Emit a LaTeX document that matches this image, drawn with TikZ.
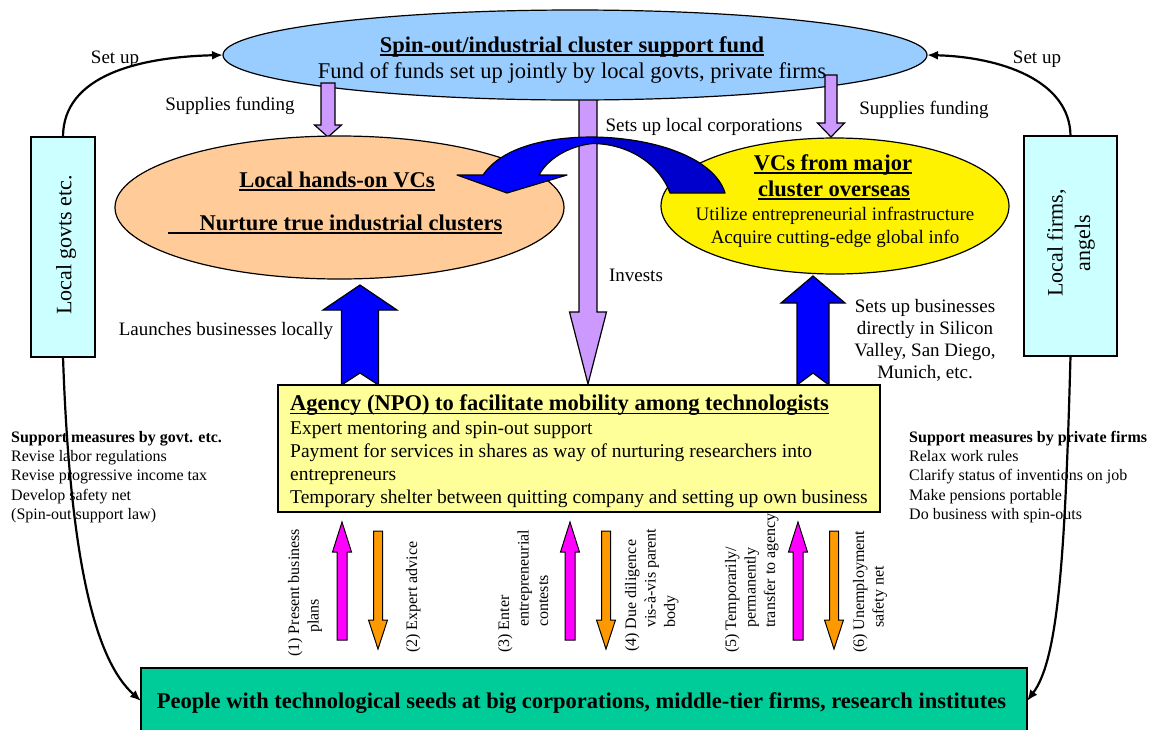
\documentclass[tikz,border=0pt]{standalone}
\usepackage{fontspec}
\setmainfont{Liberation Serif}
\usetikzlibrary{shapes.geometric,arrows.meta}
\definecolor{fundblue}{HTML}{99CCFF}
\definecolor{peach}{HTML}{FFCC99}
\definecolor{cyanbox}{HTML}{CCFFFF}
\definecolor{paleyellow}{HTML}{FFFF99}
\definecolor{seagreen}{HTML}{00CC99}
\definecolor{lavender}{HTML}{CC99FF}
\definecolor{brightblue}{HTML}{0000FF}
\definecolor{navyblue}{HTML}{0000CC}
\definecolor{orangea}{HTML}{FF9900}
\definecolor{magentaa}{HTML}{FF00FF}
\newcommand{\uln}[1]{\leavevmode\setbox0=\hbox{#1}\rlap{\rule[-3.5pt]{\wd0}{1.4pt}}\box0}
\newcommand{\myfs}[2]{\fontsize{#1}{#2}\selectfont}
\newcommand{\varrow}[7]{\filldraw[#7] ({#1-#5},#2) -- ({#1-#5},#3) -- ({#1-#6},#3) -- (#1,#4) -- ({#1+#6},#3) -- ({#1+#5},#3) -- ({#1+#5},#2) -- cycle;}
\tikzset{
  shp/.style={draw=black, line width=1.2pt, inner sep=0pt, outer sep=0pt},
  oval/.style={shp, ellipse},
  conn/.style={line width=2.2pt, -{Latex[length=11pt,width=9pt]}},
  lbl/.style={inner sep=0pt, anchor=base, font=\myfs{19}{22}},
  big/.style={inner sep=0pt, anchor=base, font=\myfs{22.5}{26}},
  bigb/.style={inner sep=0pt, anchor=base, font=\myfs{22.5}{26}\bfseries},
  lav/.style={fill=lavender, draw=black, line width=1.2pt},
  blu/.style={fill=brightblue, draw=black, line width=1.2pt},
  mag/.style={fill=magentaa, draw=black, line width=1pt},
  ora/.style={fill=orangea, draw=black, line width=1pt},
  rotlbl/.style={inner sep=0pt, rotate=90, anchor=base west, font=\myfs{16}{19.5}},
  listtxt/.style={inner sep=0pt, anchor=base west, font=\myfs{16}{19.2}}
}
\begin{document}
\begin{tikzpicture}[x=1pt,y=-1pt]
\useasboundingbox[fill=white] (0,0) rectangle (1152,729);

% invests arrow (behind the fund ellipse)
\varrow{588}{90}{312}{384}{9}{18.5}{lav}

% fund ellipse
\node[oval, fill=fundblue, minimum width=704pt, minimum height=90pt] (fund) at (575,55) {};
\node[bigb] (fundtitle) at (572,52) {\uln{Spin-out/industrial cluster support fund}};
\node[big] (fundsub) at (572,78) {Fund of funds set up jointly by local govts, private firms};

% supplies funding arrows
\varrow{328}{83}{125}{137}{7}{13.5}{lav}
\varrow{831}{75}{123}{137}{6}{13.5}{lav}
\node[lbl] (supL) at (230,110) {Supplies funding};
\node[lbl] (supR) at (924,114) {Supplies funding};

% local VC ellipse
\node[oval, fill=peach, minimum width=449pt, minimum height=143pt] (locvc) at (339.5,207.5) {};
\node[bigb] (locvct) at (337,187) {\uln{Local hands-on VCs}};
\node[bigb] (locvcn) at (335,230) {\uln{\hspace*{32pt}Nurture true industrial clusters}};

% overseas VC ellipse
\node[oval, fill=yellow, minimum width=348pt, minimum height=136pt] (ovs) at (835,206) {};
\node[bigb] (ovst1) at (833,170) {\uln{VCs from major}};
\node[bigb] (ovst2) at (834,196) {\uln{cluster overseas}};
\node[lbl] (ovsb1) at (835,220) {Utilize entrepreneurial infrastructure};
\node[lbl] (ovsb2) at (835,243) {Acquire cutting-edge global info};

% curved blue arrow: sets up local corporations
\fill[brightblue] (457,175) -- (483,175) .. controls (500,150) and (540,137) .. (593,137) -- (593,143.5) .. controls (575,145) and (550,155) .. (539,175) -- (567,175) -- (507,193) -- cycle;
\fill[navyblue] (593,137) .. controls (660,138) and (715,160) .. (725,193) -- (670,193) .. controls (660,165) and (630,144) .. (593,143.5) -- cycle;
\draw[line width=1.2pt, line join=round] (457,175) -- (483,175) .. controls (500,150) and (540,137) .. (593,137) .. controls (660,138) and (715,160) .. (725,193) -- (670,193) .. controls (660,165) and (630,144) .. (593,143.5) .. controls (575,145) and (550,155) .. (539,175) -- (567,175) -- (507,193) -- cycle;
\node[lbl] (setsup) at (704,131) {Sets up local corporations};
\node[lbl] (invests) at (636,281) {Invests};

% blue up arrows with notched tails
\filldraw[blu] (341.5,385) -- (341.5,310) -- (323,310) -- (360,285) -- (397,310) -- (378.5,310) -- (378.5,385) -- (360,373) -- cycle;
\filldraw[blu] (797,385) -- (797,303) -- (781,303) -- (813,276) -- (845,303) -- (829,303) -- (829,385) -- (813,373) -- cycle;
\node[lbl] (launch) at (226,335) {Launches businesses locally};
\node[lbl] (abroad) at (925,312) {\begin{tabular}[t]{@{}c@{}}\myfs{19}{20.5}Sets up businesses\\ directly in Silicon\\ Valley, San Diego,\\ Munich, etc.\end{tabular}};

% agency box
\node[shp, fill=paleyellow, minimum width=602pt, minimum height=127pt] (agency) at (579,448.5) {};
\node[bigb, anchor=base west] (agencyt) at (290,410.5) {\uln{Agency (NPO) to facilitate mobility among technologists}};
\node[inner sep=0pt, anchor=base west, font=\myfs{19.5}{23}] (agencyb) at (290,434) {\begin{tabular}[t]{@{}l@{}}Expert mentoring and spin-out support\\ Payment for services in shares as way of nurturing researchers into\\ entrepreneurs\\ Temporary shelter between quitting company and setting up own business\end{tabular}};

% side boxes
\node[shp, fill=cyanbox, minimum width=64pt, minimum height=220pt] (lgov) at (63,247) {};
\node[inner sep=0pt, rotate=90, font=\myfs{22}{27}] (lgovt) at (66,245) {Local govts etc.};
\node[shp, fill=cyanbox, minimum width=93pt, minimum height=220pt] (rfirm) at (1070.5,246) {};
\node[inner sep=0pt, rotate=90, align=center, font=\myfs{22}{27.5}] (rfirmt) at (1071,243) {Local firms,\\ angels};
\node[lbl] (setupL) at (115,63) {Set up};
\node[lbl] (setupR) at (1037,63) {Set up};

% support measures text
\node[listtxt] (govlist) at (11,442.5) {\begin{tabular}[t]{@{}l@{}}\textbf{Support measures by govt. etc.}\\ Revise labor regulations\\ Revise progressive income tax\\ Develop safety net\\ (Spin-out support law)\end{tabular}};
\node[listtxt] (firmlist) at (909,442.5) {\begin{tabular}[t]{@{}l@{}}\textbf{Support measures by private firms}\\ Relax work rules\\ Clarify status of inventions on job\\ Make pensions portable\\ Do business with spin-outs\end{tabular}};

% bottom box
\node[shp, line width=1.5pt, fill=seagreen, minimum width=886pt, minimum height=66pt] (people) at (584,701) {};
\node[bigb] (peoplet) at (581.5,708) {People with technological seeds at big corporations, middle-tier firms, research institutes};

% small arrows between agency and people
\varrow{342}{640}{552}{522}{5}{9.5}{mag}
\varrow{570}{640}{552}{522}{5}{9.5}{mag}
\varrow{798}{640}{552}{522}{5}{9.5}{mag}
\varrow{378}{531}{620}{649}{4.5}{9.5}{ora}
\varrow{606}{531}{620}{649}{4.5}{9.5}{ora}
\varrow{834}{531}{620}{649}{4.5}{9.5}{ora}
\node[rotlbl] (l1) at (299,657) {\begin{tabular}[t]{@{}l@{}}(1) Present business\\ \hspace*{24pt}plans\end{tabular}};
\node[rotlbl] (l2) at (417,653) {(2) Expert advice};
\node[rotlbl] (l3) at (509,653) {\begin{tabular}[t]{@{}l@{}}(3) Enter\\ \hspace*{26pt}entrepreneurial\\ \hspace*{26pt}contests\end{tabular}};
\node[rotlbl] (l4) at (636,652) {\begin{tabular}[t]{@{}l@{}}(4) Due diligence\\ \hspace*{24pt}vis-à-vis parent\\ \hspace*{24pt}body\end{tabular}};
\node[rotlbl] (l5) at (736,653) {\begin{tabular}[t]{@{}l@{}}(5) Temporarily/\\ \hspace*{25pt}permanently\\ \hspace*{25pt}transfer to agency\end{tabular}};
\node[rotlbl] (l6) at (864,653) {\begin{tabular}[t]{@{}l@{}}(6) Unemployment\\ \hspace*{25pt}safety net\end{tabular}};

% connectors
\draw[conn] (lgov.north) .. controls (63,75) and (140,57) .. (fund.west);
\draw[conn] (rfirm.north) .. controls (1070,80) and (1000,57) .. (fund.east);
\draw[conn] (lgov.south) .. controls (70,560) and (95,660) .. (people.west);
\draw[conn] (rfirm.south) .. controls (1065,560) and (1058,660) .. (people.east);
\end{tikzpicture}
\end{document}
